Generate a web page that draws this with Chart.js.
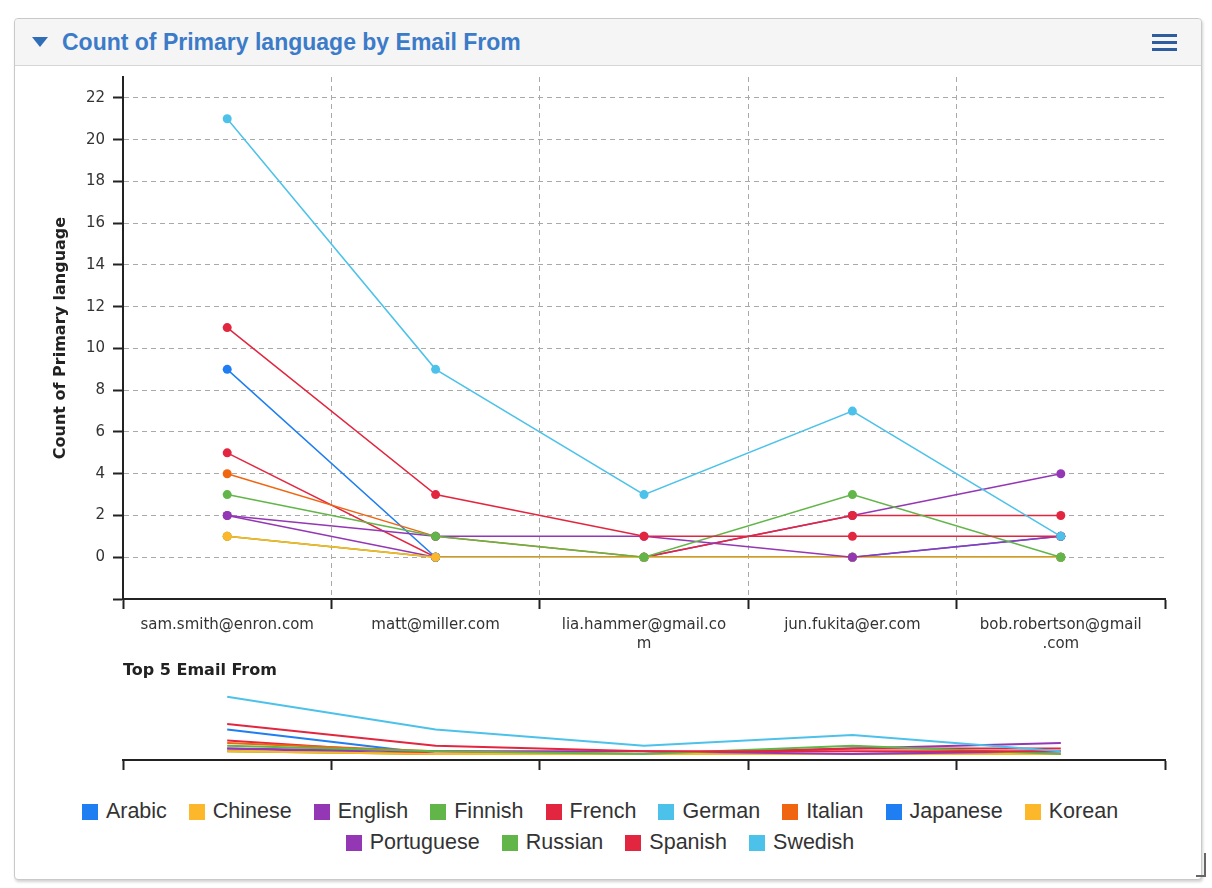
<!DOCTYPE html>
<html>
<head>
<meta charset="utf-8">
<title>Count of Primary language by Email From</title>
<script src="https://cdn.jsdelivr.net/npm/chart.js@4.4.1/dist/chart.umd.min.js"></script>
<style>
  html, body { margin: 0; padding: 0; background: #fff; }
  body { width: 1212px; height: 888px; position: relative; overflow: hidden; font-family: 'Liberation Sans', Arial, sans-serif; }
  .card { position: absolute; left: 14px; top: 18px; width: 1186px; height: 860px; border: 1px solid #c9c9c9; border-radius: 4px; box-shadow: 1px 2px 3px rgba(0,0,0,0.18); background: #fff; }
  .card-header { height: 46px; background: #f5f5f5; border-bottom: 1px solid #d6d6d6; border-radius: 4px 4px 0 0; position: relative; }
  .caret { position: absolute; left: 17px; top: 18px; width: 0; height: 0; border-left: 8px solid transparent; border-right: 8px solid transparent; border-top: 10px solid #2f6db6; }
  .card-title { position: absolute; left: 47px; top: 10px; font-size: 23px; font-weight: bold; line-height: 26px; color: #3b7bc8; white-space: nowrap; }
  .menu { position: absolute; left: 1137px; top: 15px; width: 25px; }
  .menu span { display: block; height: 3px; background: #2d5d9f; margin-bottom: 4px; }
  .resize { position: absolute; left: 1196px; top: 853px; width: 8px; height: 22px; border-right: 2px solid #666; border-bottom: 2px solid #666; }
  #mainChart { position: absolute; left: 20px; top: 66px; }
  #navChart { position: absolute; left: 20px; top: 680px; }
  #legend { position: absolute; left: 20px; top: 796px; width: 1160px; display: flex; flex-wrap: wrap; justify-content: center; column-gap: 22px; }
  #legend .item { height: 31px; line-height: 31px; font-size: 21.5px; color: #333; white-space: nowrap; display: flex; align-items: center; }
  #legend .box { width: 16px; height: 16px; margin-right: 8px; }
</style>
</head>
<body>
<div class="card">
  <div class="card-header">
    <div class="caret"></div>
    <div class="card-title">Count of Primary language by Email From</div>
    <div class="menu"><span></span><span></span><span></span></div>
  </div>
</div>
<div class="resize"></div>
<canvas id="mainChart" width="1180" height="614"></canvas>
<canvas id="navChart" width="1180" height="92"></canvas>
<div id="legend"></div>

<script>
// 类别 (Email From)
const emails = ['sam.smith@enron.com', 'matt@miller.com', 'lia.hammer@gmail.com', 'jun.fukita@er.com', 'bob.robertson@gmail.com'];
// 轴标签 (换行)
const tickLabels = [
  ['sam.smith@enron.com'],
  ['matt@miller.com'],
  ['lia.hammer@gmail.co', 'm'],
  ['jun.fukita@er.com'],
  ['bob.robertson@gmail', '.com']
];
const yTicks = [0, 2, 4, 6, 8, 10, 12, 14, 16, 18, 20, 22];

// 各语言数据
const arabic = [9, 0, 0, 0, 1];
const chinese = [1, 0, 0, 0, 0];
const english = [2, 0, 0, 2, 4];
const finnish = [1, 0, 0, 0, 0];
const french = [5, 0, 0, 2, 2];
const german = [null, 0, 0, 0, 0];
const italian = [4, 1, 0, 0, 0];
const japanese = [null, 0, 0, 0, 0];
const korean = [1, 0, 0, 0, 0];
const portuguese = [2, 1, 1, 0, 1];
const russian = [3, 1, 0, 3, 0];
const spanish = [11, 3, 1, 1, 1];
const swedish = [21, 9, 3, 7, 1];

const seriesNames = ['Arabic', 'Chinese', 'English', 'Finnish', 'French', 'German', 'Italian', 'Japanese', 'Korean', 'Portuguese', 'Russian', 'Spanish', 'Swedish'];
const seriesValues = [arabic, chinese, english, finnish, french, german, italian, japanese, korean, portuguese, russian, spanish, swedish];

const BLUE = '#1f7ef2', YELLOW = '#fcb72a', PURPLE = '#9437b4', GREEN = '#62b548',
      RED = '#e2263f', CYAN = '#4cc2ea', ORANGE = '#f0650f';
const seriesColors = [BLUE, YELLOW, PURPLE, GREEN, RED, CYAN, ORANGE, BLUE, YELLOW, PURPLE, GREEN, RED, CYAN];

const AXIS = '#222';
const GRID = '#a9a9a9';
const TICK_FONT = { family: "'DejaVu Sans', sans-serif", size: 15 };
const TITLE_FONT = { family: "'DejaVu Sans', sans-serif", size: 16, weight: 'bold' };

// 生成数据集 (后面的系列画在上层)
function buildDatasets(mini) {
  return seriesNames.map((name, i) => ({
    label: name,
    data: seriesValues[i],
    borderColor: seriesColors[i],
    backgroundColor: seriesColors[i],
    borderWidth: mini ? 2 : 1.5,
    pointRadius: mini ? 0 : 4.5,
    pointHoverRadius: mini ? 0 : 5,
    pointBorderWidth: 0,
    tension: 0,
    spanGaps: true,
    order: seriesNames.length - i
  }));
}

// 主图
function renderMainChart() {
  const ctx = document.getElementById('mainChart').getContext('2d');
  new Chart(ctx, {
    type: 'line',
    data: { labels: emails, datasets: buildDatasets(false) },
    options: {
      responsive: false,
      animation: false,
      layout: { padding: { top: 11, right: 35, bottom: 0, left: 0 } },
      plugins: { legend: { display: false }, tooltip: { enabled: false } },
      scales: {
        x: {
          type: 'category',
          offset: true,
          afterFit: s => { s.height = 81; },
          grid: {
            offset: true,
            color: c => (c.index > 0 && c.index < emails.length) ? GRID : 'rgba(0,0,0,0)',
            tickColor: AXIS,
            tickLength: 10,
            tickWidth: 2
          },
          border: { color: AXIS, width: 2, dash: [5, 4] },
          ticks: {
            color: '#333',
            font: { ...TICK_FONT, lineHeight: 1.3 },
            padding: 6,
            maxRotation: 0,
            autoSkip: false,
            callback: (v, i) => tickLabels[i]
          },
          title: {
            display: true,
            text: 'Top 5 Email From',
            align: 'start',
            color: AXIS,
            font: TITLE_FONT,
            padding: { top: 4, bottom: 0 }
          }
        },
        y: {
          min: -2,
          max: 23,
          afterFit: s => { s.width = 103; s.paddingTop = 0; s.paddingBottom = 0; },
          afterBuildTicks: s => { s.ticks = [-2, ...yTicks].map(v => ({ value: v })); },
          grid: {
            color: c => (c.tick && c.tick.value >= 0) ? GRID : 'rgba(0,0,0,0)',
            tickColor: AXIS,
            tickLength: 10,
            tickWidth: 2
          },
          border: { color: AXIS, width: 2, dash: [5, 4] },
          ticks: {
            color: '#333',
            font: TICK_FONT,
            padding: 8,
            callback: v => (v < 0 ? '' : v)
          },
          title: {
            display: true,
            text: 'Count of Primary language',
            color: AXIS,
            font: TITLE_FONT,
            padding: { top: 31, bottom: 0 }
          }
        }
      }
    }
  });
}

// 缩略导航图
function renderNavChart() {
  const ctx = document.getElementById('navChart').getContext('2d');
  new Chart(ctx, {
    type: 'line',
    data: { labels: emails, datasets: buildDatasets(true) },
    options: {
      responsive: false,
      animation: false,
      layout: { padding: { top: 10, right: 35, bottom: 0, left: 103 } },
      plugins: { legend: { display: false }, tooltip: { enabled: false } },
      scales: {
        x: {
          type: 'category',
          offset: true,
          afterFit: s => { s.height = 12; },
          grid: { offset: true, drawOnChartArea: false, tickColor: AXIS, tickLength: 10, tickWidth: 2 },
          border: { color: AXIS, width: 2 },
          ticks: { display: false }
        },
        y: { display: false, min: -2.2, max: 23.5 }
      }
    }
  });
}

// 图例
function renderLegend() {
  document.getElementById('legend').innerHTML = seriesNames.map((name, i) => `
    <div class="item"><span class="box" style="background:${seriesColors[i]}"></span>${name}</div>
  `).join('');
}

document.addEventListener('DOMContentLoaded', () => {
  renderMainChart();
  renderNavChart();
  renderLegend();
});
</script>
</body>
</html>
